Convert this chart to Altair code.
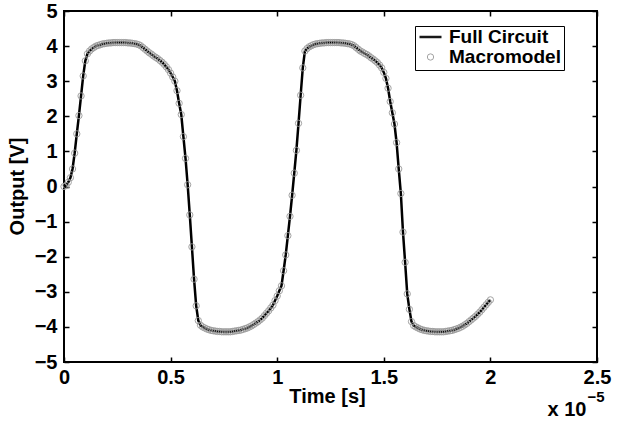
import altair as alt
import pandas as pd

# Time samples in units of 1e-5 s (uniform solver step of 1e-7 s)
time_e5 = [round(i * 0.01, 2) for i in range(201)]

# Output voltage [V]
full_circuit = [
    0.00, 0.03, 0.12, 0.25, 0.50, 0.95, 1.50, 2.02, 2.58, 3.15,
    3.58, 3.78, 3.86, 3.92, 3.96, 4.00, 4.02, 4.04, 4.06, 4.07,
    4.08, 4.09, 4.09, 4.10, 4.10, 4.10, 4.10, 4.10, 4.10, 4.10,
    4.09, 4.09, 4.08, 4.07, 4.06, 4.04, 4.01, 3.96, 3.91, 3.86,
    3.81, 3.77, 3.72, 3.68, 3.64, 3.59, 3.54, 3.48, 3.41, 3.33,
    3.23, 3.12, 3.00, 2.73, 2.37, 2.05, 1.42, 0.80, 0.05, -0.81,
    -1.72, -2.64, -3.40, -3.82, -3.95, -4.00, -4.03, -4.06, -4.08, -4.10,
    -4.11, -4.12, -4.13, -4.13, -4.14, -4.14, -4.14, -4.14, -4.14, -4.13,
    -4.12, -4.11, -4.10, -4.09, -4.07, -4.05, -4.03, -4.00, -3.97, -3.93,
    -3.89, -3.85, -3.80, -3.75, -3.68, -3.61, -3.54, -3.46, -3.38, -3.25,
    -3.12, -2.97, -2.83, -2.40, -1.95, -1.40, -0.85, -0.25, 0.38, 1.03,
    1.80, 2.60, 3.38, 3.86, 3.93, 3.98, 4.01, 4.04, 4.06, 4.07,
    4.08, 4.09, 4.09, 4.10, 4.10, 4.10, 4.10, 4.10, 4.10, 4.10,
    4.09, 4.09, 4.08, 4.07, 4.06, 4.04, 4.01, 3.96, 3.91, 3.86,
    3.83, 3.79, 3.76, 3.72, 3.67, 3.63, 3.58, 3.53, 3.46, 3.38,
    3.25, 3.08, 2.80, 2.42, 2.10, 1.78, 1.25, 0.50, -0.20, -1.30,
    -2.16, -3.06, -3.50, -3.85, -3.96, -4.00, -4.03, -4.06, -4.08, -4.10,
    -4.11, -4.12, -4.13, -4.13, -4.14, -4.14, -4.14, -4.14, -4.14, -4.13,
    -4.12, -4.11, -4.10, -4.08, -4.06, -4.04, -4.01, -3.98, -3.94, -3.90,
    -3.85, -3.80, -3.75, -3.70, -3.64, -3.58, -3.51, -3.44, -3.37, -3.30,
    -3.23,
]
macromodel = list(full_circuit)

x_ticks = [0, 0.5, 1, 1.5, 2, 2.5]
y_ticks = [-5, -4, -3, -2, -1, 0, 1, 2, 3, 4, 5]
series_names = ["Full Circuit", "Macromodel"]

df_line = pd.DataFrame({"t": time_e5, "v": full_circuit})
df_pts = pd.DataFrame({"t": time_e5, "v": macromodel, "series": "Macromodel"})

FONT = "Liberation Sans"
FS = 20
xs = alt.Scale(domain=[0, 2.5], nice=False, zero=False)
ys = alt.Scale(domain=[-5, 5], nice=False, zero=False)

tick_style = dict(ticks=True, tickSize=5, tickWidth=1.5, tickColor="black",
                  labels=False, domain=False, grid=False)

line = alt.Chart(df_line).mark_line(color="black", strokeWidth=2.5).encode(
    x=alt.X("t:Q", scale=xs, axis=alt.Axis(
        orient="bottom", values=x_ticks, format="~g", ticks=False, domain=False,
        grid=False, labelFlush=False, labelOverlap=False,
        labelFont=FONT, labelFontSize=FS, labelFontWeight="bold",
        labelColor="black", labelPadding=5,
        title="Time [s]", titleFont=FONT, titleFontSize=FS,
        titleFontWeight="bold", titleColor="black",
        titleX=263, titleY=40, titleBaseline="alphabetic", titleAlign="center")),
    y=alt.Y("v:Q", scale=ys, axis=alt.Axis(
        orient="left", values=y_ticks, format="d", ticks=False, domain=False,
        grid=False, labelFlush=False, labelOverlap=False,
        labelFont=FONT, labelFontSize=FS, labelFontWeight="bold",
        labelColor="black", labelPadding=7,
        title="Output [V]", titleFont=FONT, titleFontSize=FS,
        titleFontWeight="bold", titleColor="black", titleAngle=270,
        titleX=-41, titleY=175, titleBaseline="alphabetic", titleAlign="center")),
)

points = alt.Chart(df_pts).mark_point(filled=False, opacity=0.9).encode(
    x=alt.X("t:Q", scale=xs, axis=alt.Axis(
        orient="bottom", offset=-5, values=x_ticks, **tick_style,
        title="x 10", titleFont=FONT, titleFontSize=FS, titleFontWeight="bold",
        titleColor="black", titleX=522, titleY=58, titleAlign="right",
        titleBaseline="alphabetic")),
    y=alt.Y("v:Q", scale=ys, axis=alt.Axis(
        orient="right", offset=-5, values=y_ticks, **tick_style, title="")),
    color=alt.Color("series:N", scale=alt.Scale(domain=series_names, range=["black", "#9a9a9a"]),
                    title=None,
                    legend=alt.Legend(orient="none", legendX=351, legendY=15,
                                      fillColor="white", strokeColor="black",
                                      padding=3, rowPadding=1, labelOffset=6,
                                      labelFont=FONT, labelFontSize=19,
                                      labelFontWeight="bold", labelColor="black",
                                      clipHeight=16)),
    shape=alt.Shape("series:N", scale=alt.Scale(domain=series_names, range=["stroke", "circle"]),
                    title=None),
    size=alt.Size("series:N", scale=alt.Scale(domain=series_names, range=[484, 40]),
                  title=None),
    strokeWidth=alt.StrokeWidth("series:N", scale=alt.Scale(domain=series_names, range=[2.5, 1]),
                                title=None),
)

frame_ticks = alt.Chart(df_line).mark_point(opacity=0).encode(
    x=alt.X("t:Q", scale=xs, axis=alt.Axis(
        orient="top", offset=-5, values=x_ticks, **tick_style,
        title="\u22125", titleFont=FONT, titleFontSize=15, titleFontWeight="bold",
        titleColor="black", titleX=523, titleY=385, titleAlign="left",
        titleBaseline="alphabetic")),
    y=alt.Y("v:Q", scale=ys, axis=alt.Axis(
        orient="left", offset=-5, values=y_ticks, **tick_style, title="")),
)

chart = alt.layer(line, points, frame_ticks).resolve_axis(
    x="independent", y="independent"
).properties(
    width=533, height=351,
    autosize=alt.AutoSizeParams(type="none"),
    padding={"left": 64, "top": 11, "right": 23, "bottom": 59},
    background="white",
).configure_view(stroke="black", strokeWidth=2)

chart.save("out.html", embed_options={"renderer": "svg", "actions": False})
